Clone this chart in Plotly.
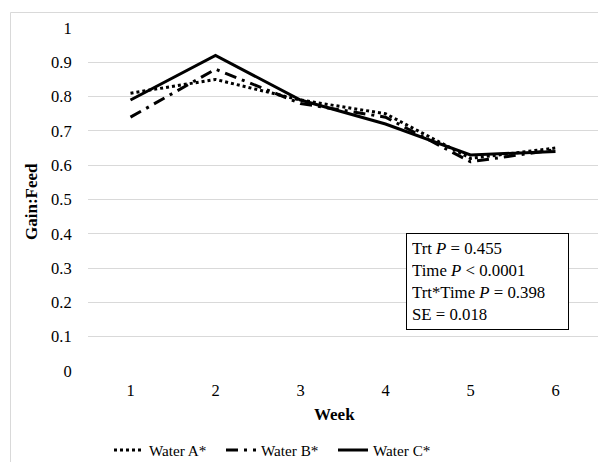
import plotly.graph_objects as go

weeks = ["1", "2", "3", "4", "5", "6"]
water_a = [0.81, 0.85, 0.79, 0.75, 0.62, 0.65]
water_b = [0.74, 0.88, 0.78, 0.74, 0.61, 0.645]
water_c = [0.79, 0.92, 0.79, 0.72, 0.63, 0.64]
y_ticks = [0, 0.1, 0.2, 0.3, 0.4, 0.5, 0.6, 0.7, 0.8, 0.9, 1]
y_tick_text = ["0", "0.1", "0.2", "0.3", "0.4", "0.5", "0.6", "0.7", "0.8", "0.9", "1"]

FONT = "Liberation Serif, Times New Roman, serif"
OFF = 8  # page body margin
W, H = 606 - 2 * OFF, 470 - 2 * OFF
# target picture geometry: plot left 88, right 598, top 28, bottom 371
L = 88 - OFF
T = 28 - OFF
R = W - (598 - OFF)
B = H - (371 - OFF)
pw = W - L - R
ph = H - T - B

def px_x(px):
    return (px - OFF - L) / pw

def px_y(py):
    return (H - B - (py - OFF)) / ph

fig = go.Figure()
fig.add_trace(go.Scatter(x=weeks, y=water_a, name="Water A*", mode="lines",
                         line=dict(color="black", width=3, dash="dot")))
fig.add_trace(go.Scatter(x=weeks, y=water_b, name="Water B*", mode="lines",
                         line=dict(color="black", width=3, dash="12px,6px,3px,6px")))
fig.add_trace(go.Scatter(x=weeks, y=water_c, name="Water C*", mode="lines",
                         line=dict(color="black", width=3)))

fig.update_layout(
    width=W, height=H,
    margin=dict(l=L, r=R, t=T, b=B, autoexpand=False),
    paper_bgcolor="white", plot_bgcolor="white",
    font=dict(family=FONT, size=16.5, color="black"),
    showlegend=True,
    legend=dict(orientation="h", x=px_x(109), xanchor="left", y=px_y(450), yanchor="middle",
                entrywidth=67, entrywidthmode="pixels",
                font=dict(family=FONT, size=15.2),
                bgcolor="rgba(0,0,0,0)", itemwidth=30),
    xaxis=dict(type="category", range=[-0.5, 5.5], showgrid=False, zeroline=False,
               showline=False, ticks="outside", ticklen=4, tickcolor="rgba(0,0,0,0)",
               tickfont=dict(family=FONT, size=16.5), fixedrange=True),
    yaxis=dict(range=[0, 1], tickvals=y_ticks, ticktext=y_tick_text,
               showgrid=True, gridcolor="#D9D9D9", gridwidth=1, zeroline=False,
               showline=False, ticks="outside", ticklen=12, tickcolor="rgba(0,0,0,0)",
               tickfont=dict(family=FONT, size=16.5), fixedrange=True),
    shapes=[dict(type="rect", xref="paper", yref="paper",
                 x0=px_x(10.5), x1=px_x(640), y0=px_y(500), y1=px_y(12.5),
                 line=dict(color="#D9D9D9", width=1), fillcolor="rgba(0,0,0,0)")],
    annotations=[
        dict(text="<b>Week</b>", xref="paper", yref="paper", x=px_x(334), y=px_y(414),
             xanchor="center", yanchor="middle", showarrow=False,
             font=dict(family=FONT, size=17)),
        dict(text="<b>Gain:Feed</b>", xref="paper", yref="paper", x=px_x(31), y=px_y(202),
             xanchor="center", yanchor="middle", showarrow=False, textangle=-90,
             font=dict(family=FONT, size=17)),
        dict(text="Trt <i>P</i> = 0.455<br>Time <i>P</i> &lt; 0.0001<br>Trt*Time <i>P</i> = 0.398<br>SE = 0.018",
             xref="paper", yref="paper", x=px_x(406), y=px_y(233),
             xanchor="left", yanchor="top", showarrow=False, align="left",
             width=151, bordercolor="black", borderwidth=1, borderpad=5,
             bgcolor="white", font=dict(family=FONT, size=16.8)),
    ],
)

fig.write_html("out.html")
